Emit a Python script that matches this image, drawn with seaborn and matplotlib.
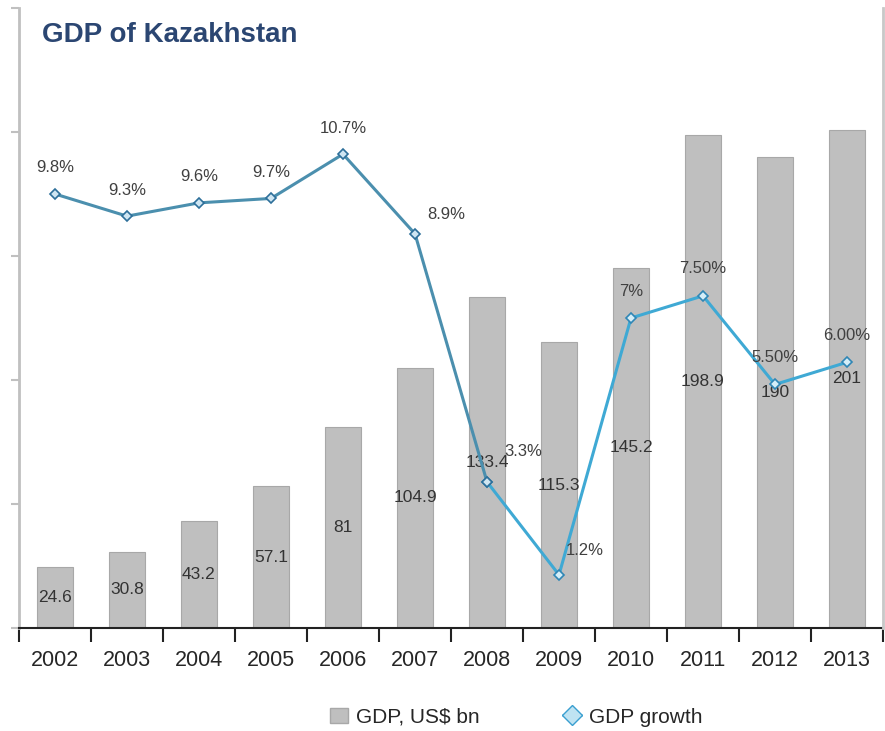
import matplotlib
matplotlib.use('Agg')
import matplotlib.pyplot as plt
import seaborn as sns
import numpy as np
import pandas as pd
from matplotlib.lines import Line2D
from matplotlib.patches import Patch

years = ['2002', '2003', '2004', '2005', '2006', '2007', '2008', '2009', '2010', '2011', '2012', '2013']
gdp = [24.6, 30.8, 43.2, 57.1, 81, 104.9, 133.4, 115.3, 145.2, 198.9, 190, 201]
gdp_labels = ['24.6', '30.8', '43.2', '57.1', '81', '104.9', '133.4', '115.3', '145.2', '198.9', '190', '201']
growth = [9.8, 9.3, 9.6, 9.7, 10.7, 8.9, 3.3, 1.2, 7.0, 7.5, 5.5, 6.0]
growth_labels = ['9.8%', '9.3%', '9.6%', '9.7%', '10.7%', '8.9%', '3.3%', '1.2%', '7%', '7.50%', '5.50%', '6.00%']

# label offsets (pixels) for growth annotations
label_offsets = [(0, 26)] * 5 + [(31, 19), (36, 30), (26, 24)] + [(0, 27)] * 4

sns.set_theme(style='white')
plt.rcParams['font.family'] = ['Liberation Sans', 'DejaVu Sans']

df = pd.DataFrame({'year': years, 'gdp': gdp, 'growth': growth,
                   'pos': np.arange(len(years))})

fig = plt.figure(figsize=(8.85, 7.31), dpi=100)
ax = fig.add_axes([19/885, 1-628/731, (883-19)/885, (628-8)/731])

sns.barplot(data=df, x='year', y='gdp', color='#bfbfbf', saturation=1, width=0.5,
            edgecolor='#a8a8a8', linewidth=0.8, ax=ax)
ax.bar_label(ax.containers[0], labels=gdp_labels, label_type='center',
             fontsize=12.5, color='#333333')
ax.set_ylim(0, 250)

ax2 = ax.twinx()
seg1 = df.iloc[:7]
seg2 = df.iloc[6:]
sns.lineplot(data=seg2, x='pos', y='growth', color='#3fa9d4', lw=2.2, marker='D',
             markersize=5, markerfacecolor='#d4eef8', markeredgecolor='#2f86b5',
             markeredgewidth=1.2, ax=ax2)
sns.lineplot(data=seg1, x='pos', y='growth', color='#4b8fae', lw=2.2, marker='D',
             markersize=5, markerfacecolor='#cfe6f2', markeredgecolor='#2d6f9a',
             markeredgewidth=1.2, ax=ax2)
ax2.set_ylim(0, 14)

for i, (lab, off) in enumerate(zip(growth_labels, label_offsets)):
    ax2.annotate(lab, (df['pos'][i], growth[i]), xytext=off, textcoords='offset pixels',
                 ha='center', va='center', fontsize=12, color='#404040')

ax.set_xlim(-0.5, 11.5)
ax.set_xticks(np.arange(len(years)))
ax.set_xticklabels(years)
ax.set_xticks(np.arange(-0.5, len(years), 1), minor=True)
ax.tick_params(axis='x', which='major', length=0, pad=15.5, labelsize=15.5, labelcolor='#262626')
ax.tick_params(axis='x', which='minor', length=10, width=1.5, color='#222222', direction='out', bottom=True)
ax.set_yticks(np.arange(0, 251, 50))
ax.tick_params(axis='y', which='major', length=6, width=1.5, color='#c0c0c0', direction='out',
               left=True, labelleft=False)
ax.set_xlabel('')
ax.set_ylabel('')
ax2.set_xlabel('')
ax2.set_ylabel('')
ax2.tick_params(axis='y', length=0, labelright=False)

for s in ['top']:
    ax.spines[s].set_visible(False)
    ax2.spines[s].set_visible(False)
ax.spines['right'].set_visible(False)
ax.spines['left'].set_color('#c0c0c0')
ax.spines['left'].set_linewidth(2)
ax.spines['bottom'].set_color('#222222')
ax.spines['bottom'].set_linewidth(1.5)
ax2.spines['left'].set_visible(False)
ax2.spines['bottom'].set_visible(False)
ax2.spines['right'].set_color('#c8c8c8')
ax2.spines['right'].set_linewidth(2)

fig.text(42/885, 1-35/731, 'GDP of Kazakhstan', fontsize=20, fontweight='bold',
         color='#2b4672', ha='left', va='center')

handles = [Patch(facecolor='#bfbfbf', edgecolor='#a8a8a8'),
           Line2D([], [], color='#3fa9d4', marker='D', markersize=10, lw=2,
                  markerfacecolor='#bfe3f2', markeredgecolor='#3a9fd0')]
fig.legend(handles, ['GDP, US$ bn', 'GDP growth'], loc='center', bbox_to_anchor=(0.583, 0.019),
           ncol=2, frameon=False, fontsize=15, handlelength=0.9, handleheight=0.8,
           handletextpad=0.35, columnspacing=4, labelcolor='#262626')

fig.savefig('out.png', dpi=100)
